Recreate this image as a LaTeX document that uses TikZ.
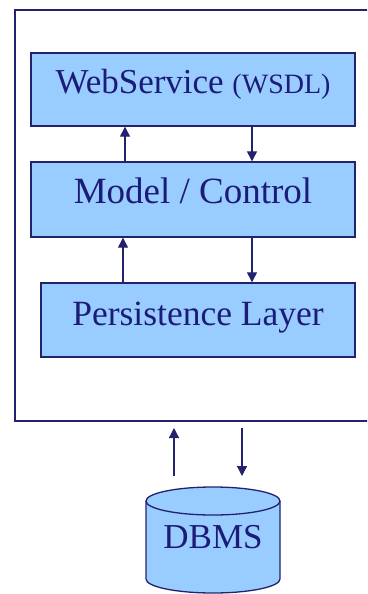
\documentclass[tikz,border=0pt]{standalone}
\usepackage{fontspec}
\setmainfont{Liberation Serif}
\usetikzlibrary{arrows.meta}
\definecolor{boxfill}{HTML}{99CCFF}
\definecolor{navy}{HTML}{22226E}
\definecolor{txt}{HTML}{1C1C78}
\begin{document}
\begin{tikzpicture}[x=1pt,y=-1pt,
  layerbox/.style={draw=navy, line width=1.4pt, fill=boxfill, text=txt,
    text height=20pt, text depth=13pt, inner sep=0pt},
  arr/.style={draw=navy, line width=1.3pt, -{Triangle[width=10pt,length=10pt]}},
  frame/.style={draw=navy, line width=1.5pt}]
\clip (0,0) rectangle (367,594);
\fill[white] (0,0) rectangle (367,594);
% outer frame (right side beyond the picture)
\draw[frame] (380,10) -- (15,10) -- (15,421) -- (380,421);
% layers
\node[layerbox, minimum width=324pt, minimum height=73pt] (ws) at (193,89.5)
  {\fontsize{35}{35}\selectfont WebService \fontsize{28}{28}\selectfont(WSDL)};
\node[layerbox, minimum width=324pt, minimum height=75pt] (mc) at (193,199.5)
  {\fontsize{37}{37}\selectfont Model / Control};
\node[layerbox, minimum width=314pt, minimum height=74pt, text depth=10pt] (pl) at (198,320)
  {\fontsize{35.5}{35.5}\selectfont Persistence Layer};
% arrow columns
\coordinate (u1) at (125,0);
\coordinate (d1) at (252,0);
\coordinate (u2) at (123,0);
\draw[arr] (mc.north -| u1) -- (ws.south -| u1);
\draw[arr] (ws.south -| d1) -- (mc.north -| d1);
\draw[arr] (pl.north -| u2) -- (mc.south -| u2);
\draw[arr] (mc.south -| d1) -- (pl.north -| d1);
% DBMS cylinder
\fill[boxfill] (146,501) -- (146,579) arc[start angle=180, end angle=0, x radius=67, y radius=14]
  -- (280,501) arc[start angle=0, end angle=-180, x radius=67, y radius=14] -- cycle;
\draw[navy, line width=1.3pt] (146,501) -- (146,579) arc[start angle=180, end angle=0, x radius=67, y radius=14] -- (280,501);
\draw[navy, line width=1.3pt] (213,501) ellipse[x radius=67, y radius=14];
\node[anchor=base, text=txt, inner sep=0pt] (db) at (213,548) {\fontsize{35}{35}\selectfont DBMS};
% arrows between frame and DBMS
\coordinate (bu1) at (174,476);
\coordinate (bu2) at (174,428);
\coordinate (bd1) at (242,428);
\coordinate (bd2) at (242,476);
\draw[arr] (bu1) -- (bu2);
\draw[arr] (bd1) -- (bd2);
\end{tikzpicture}
\end{document}
